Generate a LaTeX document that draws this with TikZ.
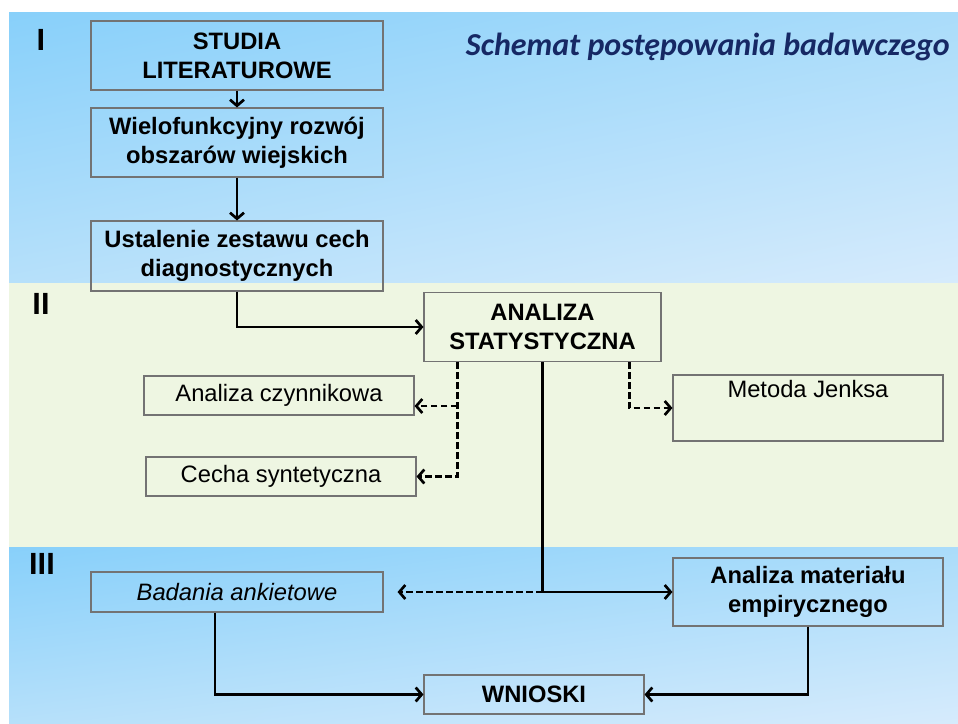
\documentclass[tikz,border=0pt]{standalone}
\usepackage{fontspec}
\setmainfont{Liberation Sans}
\newfontfamily\titlefont{Carlito}
\usetikzlibrary{arrows.meta,calc,shadings}
\definecolor{bgA}{RGB}{136,208,250}
\definecolor{bgB}{RGB}{170,220,250}
\definecolor{bgC}{RGB}{182,224,250}
\definecolor{bgD}{RGB}{214,235,252}
\definecolor{bgG}{RGB}{238,246,226}
\definecolor{boxgray}{RGB}{115,115,115}
\definecolor{navy}{RGB}{22,40,100}
\begin{document}
\begin{tikzpicture}[x=0.75pt,y=-0.75pt,
  box/.style={draw=boxgray, line width=0.8pt, inner sep=0pt, align=center,
    font={\fontsize{17.8pt}{21.5pt}\selectfont\bfseries}},
  lbox/.style={box, font={\fontsize{17.8pt}{21.5pt}\selectfont}},
  numeral/.style={font={\fontsize{23pt}{26pt}\selectfont\bfseries}, inner sep=0pt},
  conn/.style={line width=2pt, -{Straight Barb[length=4.5pt,width=10.5pt]}},
  dconn/.style={conn, dash pattern=on 5pt off 2.5pt}]
\useasboundingbox (0,0) rectangle (958,724);
\fill[white] (0,0) rectangle (958,724);
\shade[upper left=bgA, upper right=bgB, lower left=bgC, lower right=bgD] (9,13) rectangle (958,283);
\fill[bgG] (9,283) rectangle (958,547);
\shade[upper left=bgA, upper right=bgB, lower left=bgC, lower right=bgD] (9,547) rectangle (958,724);

\node[numeral] (n1) at (41,40) {I};
\node[numeral] (n2) at (41,304) {II};
\node[numeral] (n3) at (42,564) {III};
\node[anchor=base east, inner sep=0pt, text=navy, font={\titlefont\fontsize{24pt}{28pt}\selectfont\bfseries\itshape}] (title) at (950,56) {Schemat postępowania badawczego};

\node[box, minimum width=292*0.75pt, minimum height=69*0.75pt] (studia) at (237,55.5) {STUDIA\\LITERATUROWE};
\node[box, minimum width=292*0.75pt, minimum height=69*0.75pt] (wielo) at (237,142.5) {Wielofunkcyjny rozwój\\obszarów wiejskich};
\node[box, minimum width=292*0.75pt, minimum height=70*0.75pt] (ustal) at (237,256) {Ustalenie zestawu cech\\diagnostycznych};
\node[box, minimum width=237*0.75pt, minimum height=69*0.75pt] (anal) at (542.5,327) {ANALIZA\\STATYSTYCZNA};
\node[lbox, minimum width=270*0.75pt, minimum height=39*0.75pt] (czyn) at (279,395.5) {Analiza czynnikowa};
\node[lbox, minimum width=270*0.75pt, minimum height=39*0.75pt] (cecha) at (281,476.5) {Cecha syntetyczna};
\node[lbox, minimum width=270*0.75pt, minimum height=66*0.75pt] (jenks) at (808,408) {Metoda Jenksa\\\strut};
\node[lbox, minimum width=292*0.75pt, minimum height=40*0.75pt, font={\fontsize{17.8pt}{21.5pt}\selectfont\itshape}] (badania) at (237,592) {Badania ankietowe};
\node[box, minimum width=270*0.75pt, minimum height=68*0.75pt] (empir) at (808,592) {Analiza materiału\\empirycznego};
\node[box, minimum width=220*0.75pt, minimum height=39*0.75pt] (wnioski) at (534,694.5) {WNIOSKI};

\draw[conn] (studia) -- (wielo);
\draw[conn] (wielo) -- (ustal);
\draw[conn] (ustal.south) |- (anal.west);

\coordinate (dl) at ($(anal.south west)+(34,0)$);
\coordinate (dr) at ($(anal.south west)+(206,0)$);
\draw[dconn] (dl) |- (cecha.east);
\draw[dconn] (dl |- 0,406) -- (czyn.east |- 0,406);
\draw[dconn] (dr) |- (jenks.west);

\coordinate (split) at (anal.south |- empir.west);
\draw[conn] (anal.south) |- (empir.west);
\draw[dconn, shorten >=10.5pt] (split) -- (badania.east);

\draw[conn] ($(badania.south)+(-22,0)$) |- (wnioski.west);
\draw[conn] (empir.south) |- (wnioski.east);
\end{tikzpicture}
\end{document}
